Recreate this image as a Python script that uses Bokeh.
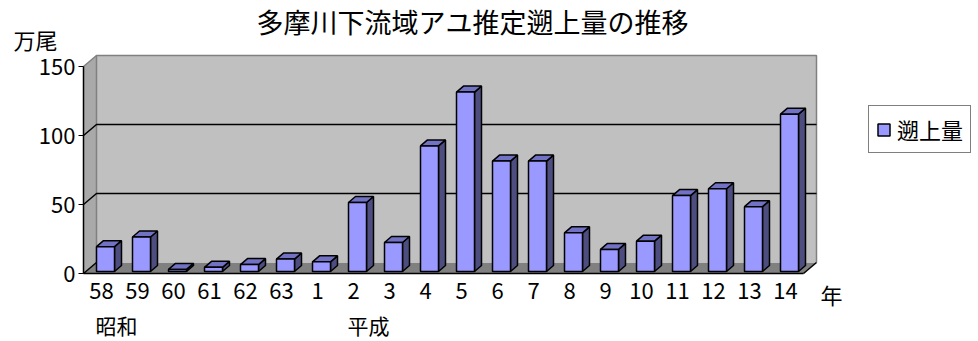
from bokeh.plotting import figure
from bokeh.models import Range1d, FixedTicker, Label, Legend, LegendItem
from bokeh.embed import file_html
from bokeh.resources import INLINE

# ---------------- data ----------------
chart_title = "多摩川下流域アユ推定遡上量の推移"
years = ["58", "59", "60", "61", "62", "63", "1", "2", "3", "4",
         "5", "6", "7", "8", "9", "10", "11", "12", "13", "14"]
values = [18, 25, 1.5, 3, 5, 9, 7, 50, 21, 91,
          130, 80, 80, 28, 16, 22, 55, 60, 47, 114]
y_ticks = [0, 50, 100, 150]
series_name = "遡上量"
unit_label = "万尾"
x_unit_label = "年"
era_names = ["昭和", "平成"]
era_start = [0, 7]

# ---------------- layout constants ----------------
FONT = "Noto Sans CJK JP"
W, H = 978, 341
X0, Y0 = 83, 273   # px position of the front-axis origin
KX = 36.0          # px per category
KY = 1.38          # px per value unit
n = len(years)
ymax = y_ticks[-1]

def sx(px):
    return (px - X0) / KX

def sy(py):
    return (Y0 - py) / KY

p = figure(width=W, height=H, output_backend="svg", toolbar_location=None,
           x_range=Range1d(sx(0), sx(W)), y_range=Range1d(sy(H), sy(0)),
           min_border=0, min_border_left=0, min_border_right=0,
           min_border_top=0, min_border_bottom=0)
p.outline_line_color = None
p.xgrid.visible = False
p.ygrid.visible = False
p.background_fill_color = "white"
p.border_fill_color = "white"

# ---------------- 3D walls ----------------
dxw = 13 / KX
dyw = 11 / KY
p.patch([0, n, n + dxw, dxw], [0, 0, dyw, dyw], fill_color="#808080", line_color=None)
p.patch([0, dxw, dxw, 0], [0, dyw, ymax + dyw, ymax], fill_color="#A9A9A9", line_color=None)
p.quad(left=[dxw], right=[n + dxw], bottom=[dyw], top=[ymax + dyw],
       fill_color="#C0C0C0", line_color=None)
p.multi_line([[0, dxw, n + dxw, n + dxw], [dxw, dxw]],
             [[ymax, ymax + dyw, ymax + dyw, dyw], [dyw, ymax + dyw]],
             line_color="#808080", line_width=1.5)
gx, gy = [], []
for v in y_ticks[1:-1]:
    gx.append([0, dxw, n + dxw])
    gy.append([v, v + dyw, v + dyw])
gx.append([0, dxw])
gy.append([0, dyw])
gx.append([n, n + dxw])
gy.append([0, dyw])
p.multi_line(gx, gy, line_color="black", line_width=1.5)

# ---------------- 3D bars ----------------
off = 4 / KX
hw = 9 / KX
base = 2 / KY
sdx = 7 / KX
sdy = 6 / KY
lefts = [i + 0.5 + off - hw for i in range(n)]
rights = [i + 0.5 + off + hw for i in range(n)]
tops = [base + v for v in values]

side_x = [[r, r + sdx, r + sdx, r] for r in rights]
side_y = [[base, base + sdy, t + sdy, t] for t in tops]
top_x = [[l, l + sdx, r + sdx, r] for l, r in zip(lefts, rights)]
top_y = [[t, t + sdy, t + sdy, t] for t in tops]
p.patches(side_x, side_y, fill_color="#4D4D80", line_color="black", line_width=1.5)
p.patches(top_x, top_y, fill_color="#7272C4", line_color="black", line_width=1.5)
front = p.quad(left=lefts, right=rights, bottom=[base] * n, top=tops,
               fill_color="#9999FF", line_color="black", line_width=1.5)

# ---------------- axes (fixed inside the frame) ----------------
ya = p.yaxis[0]
ya.fixed_location = 0
ya.ticker = FixedTicker(ticks=y_ticks)
ya.bounds = (0, ymax)
ya.axis_line_color = "black"
ya.axis_line_width = 1.5
ya.major_tick_out = 5
ya.major_tick_in = 0
ya.minor_tick_out = 0
ya.minor_tick_in = 0
ya.major_tick_line_color = "black"
ya.major_label_standoff = 3
ya.major_label_text_font = FONT
ya.major_label_text_font_size = "22px"
ya.major_label_text_color = "black"

xa = p.xaxis[0]
xa.fixed_location = 0
xt = [i + 0.5 for i in range(n)]
xa.ticker = FixedTicker(ticks=xt)
xa.major_label_overrides = {t: lab for t, lab in zip(xt, years)}
xa.bounds = (0, n)
xa.axis_line_color = "black"
xa.axis_line_width = 1.5
xa.major_tick_out = 0
xa.major_tick_in = 0
xa.minor_tick_out = 0
xa.minor_tick_in = 0
xa.major_label_standoff = 9
xa.major_label_text_font = FONT
xa.major_label_text_font_size = "22px"
xa.major_label_text_color = "black"

# ---------------- texts ----------------
def add_label(text, px, py, size):
    p.add_layout(Label(x=sx(px), y=sy(py), text=text, text_font=FONT,
                       text_font_size=size, text_align="center",
                       text_baseline="middle", text_color="black"))

add_label(chart_title, 472, 21, "27px")
add_label(unit_label, 35, 38, "22px")
add_label(x_unit_label, 831, 293, "22px")
for name, idx in zip(era_names, era_start):
    add_label(name, X0 + (idx + 0.5) * KX + 15, 324, "21px")

# ---------------- legend ----------------
legend = Legend(items=[LegendItem(label=series_name, renderers=[front])],
                location=(868, H - 153),
                border_line_color="black", border_line_width=1.5,
                background_fill_color="white", background_fill_alpha=1.0,
                padding=7, margin=0, spacing=0,
                glyph_width=15, glyph_height=15, label_standoff=6,
                label_text_font=FONT, label_text_font_size="22px",
                label_text_color="black")
p.add_layout(legend)

open("out.html", "w").write(file_html(p, INLINE))
